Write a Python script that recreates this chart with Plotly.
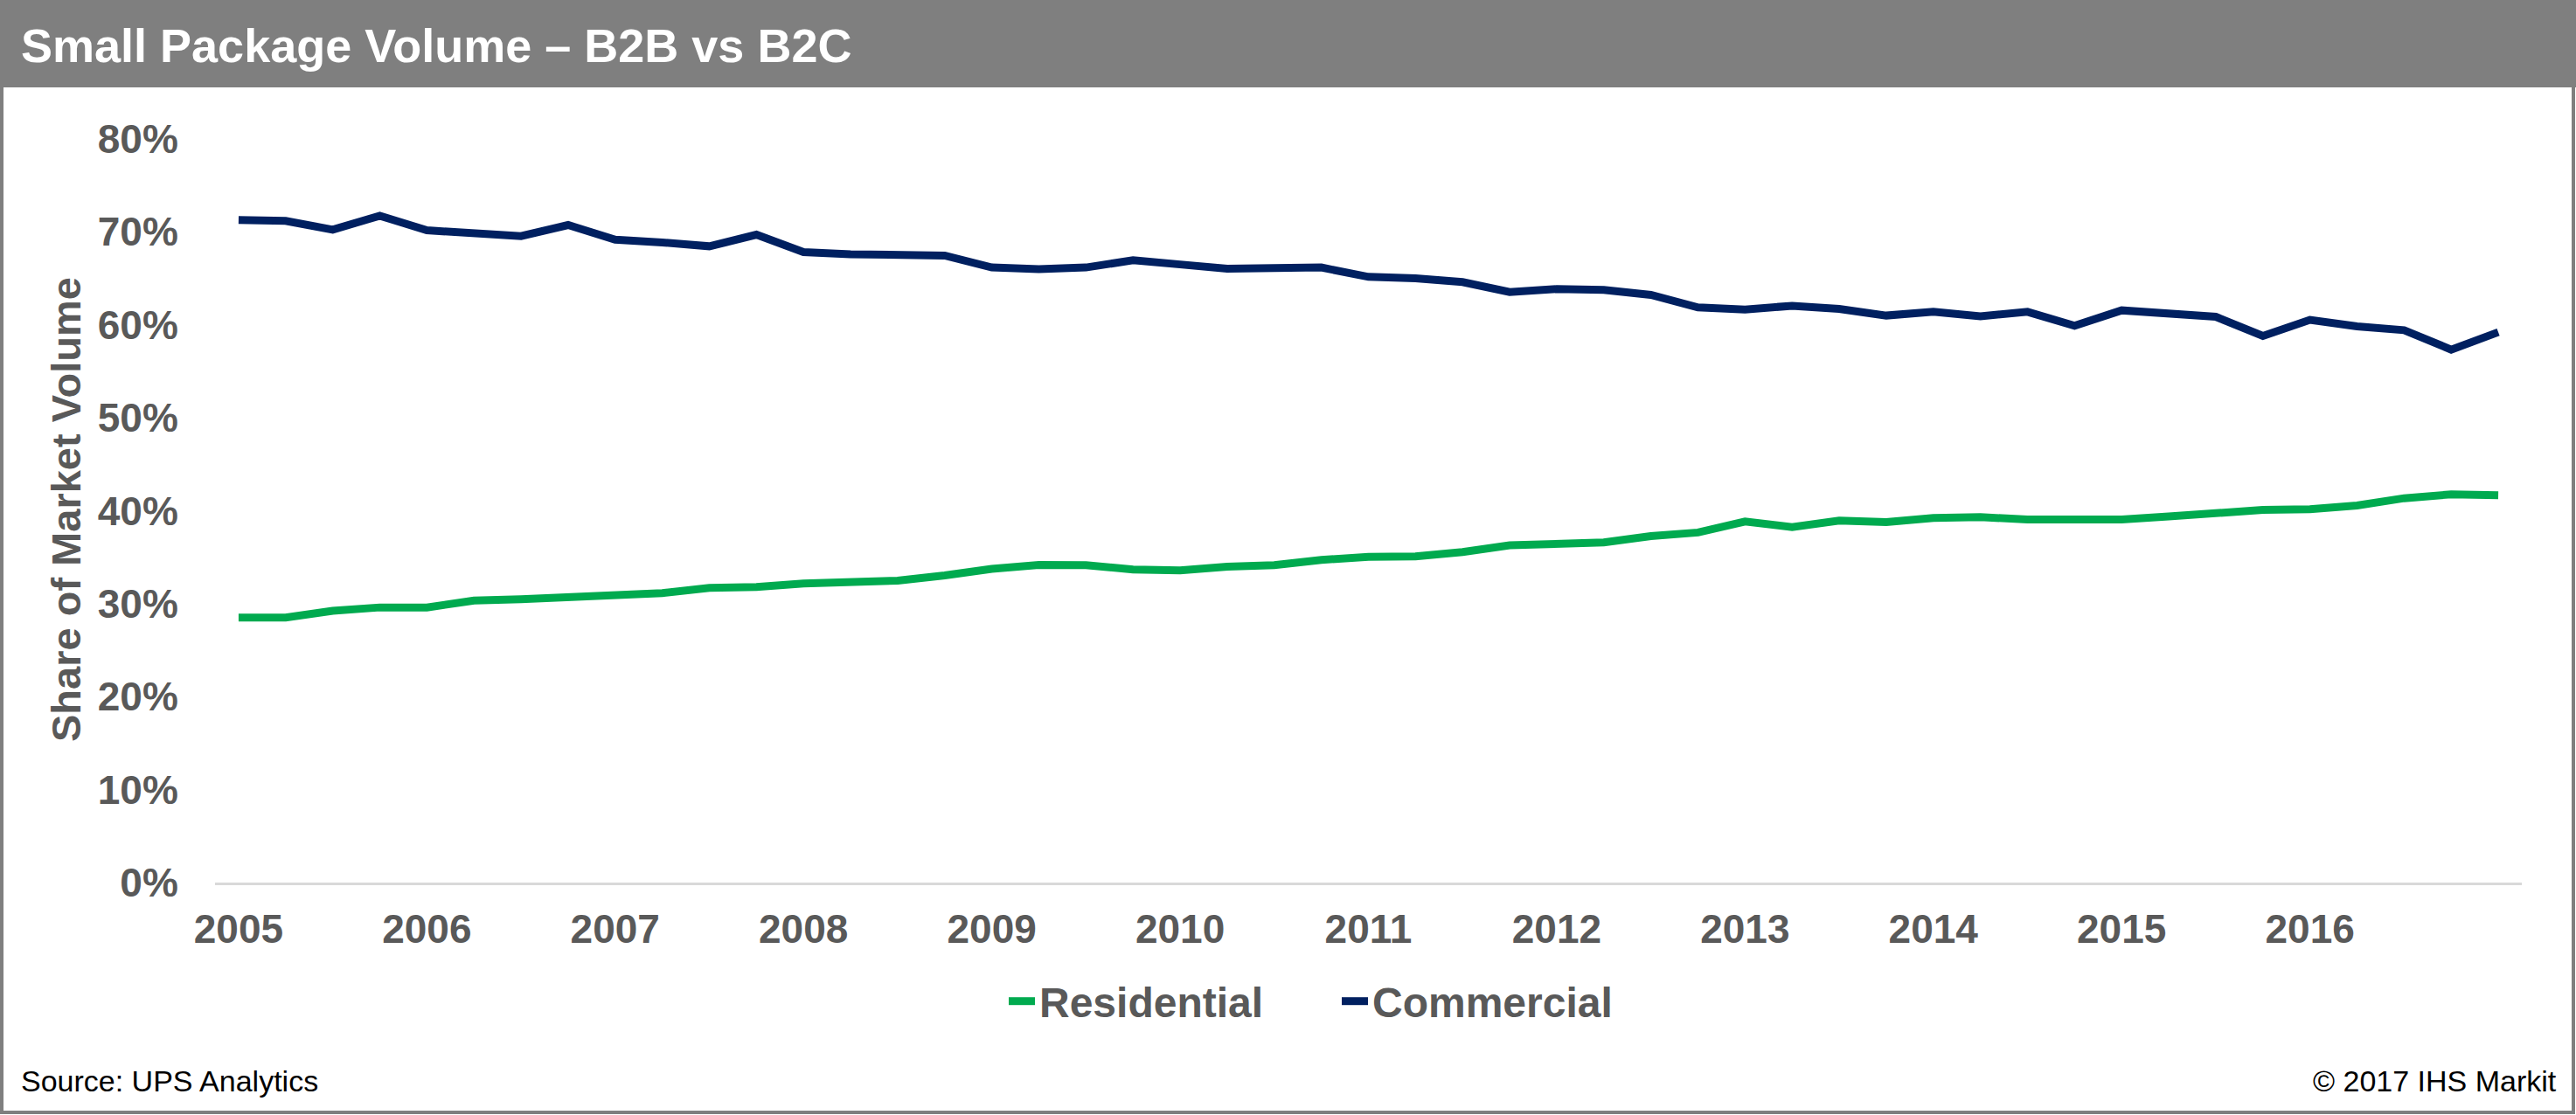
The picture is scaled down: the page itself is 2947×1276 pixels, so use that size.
import plotly.graph_objects as go

# Quarterly periods, 2005 Q1 through 2017 Q1
quarters = [f"{y} Q{q}" for y in range(2005, 2018) for q in range(1, 5)][:49]
year_labels = [str(y) for y in range(2005, 2017)]
year_ticks = [f"{y} Q1" for y in year_labels]

# Share of market volume (%)
residential = [28.51, 28.51, 29.23, 29.60, 29.60, 30.33, 30.48, 30.64, 30.86, 31.14,
               31.70, 31.80, 32.17, 32.33, 32.49, 33.05, 33.75, 34.18, 34.15, 33.68,
               33.58, 33.99, 34.15, 34.71, 35.03, 35.09, 35.56, 36.28, 36.34, 36.59,
               37.28, 37.66, 38.84, 38.25, 38.94, 38.78, 39.22, 39.31, 39.06, 39.16,
               39.06, 39.38, 39.78, 40.10, 40.16, 40.57, 41.35, 41.76, 41.67]
commercial = [71.27, 71.18, 70.24, 71.74, 70.17, 69.86, 69.55, 70.74, 69.17, 68.86,
              68.45, 69.70, 67.83, 67.60, 67.45, 67.45, 66.17, 66.00, 66.17, 66.95,
              66.50, 66.04, 66.10, 66.17, 65.16, 65.00, 64.60, 63.53, 63.85, 63.75,
              63.22, 61.87, 61.65, 62.05, 61.72, 61.00, 61.40, 60.93, 61.40, 59.90,
              61.56, 61.25, 60.87, 58.80, 60.53, 59.84, 59.43, 57.33, 59.21]

W, H = 2947, 1276
PLOT_L, PLOT_R, PLOT_T, PLOT_B = 246, 2885, 159, 1010
FONT = "Liberation Sans, Arial, sans-serif"
GREY_TXT = "#595959"
FRAME = "#7F7F7F"


def px_x(x):
    return (x - PLOT_L) / (PLOT_R - PLOT_L)


def px_y(y):
    return (PLOT_B - y) / (PLOT_B - PLOT_T)


fig = go.Figure()
fig.add_trace(go.Scatter(x=quarters, y=residential, name="Residential", mode="lines",
                         line=dict(color="#00AA4F", width=9)))
fig.add_trace(go.Scatter(x=quarters, y=commercial, name="Commercial", mode="lines",
                         line=dict(color="#002060", width=9)))

fig.update_layout(
    width=W, height=H,
    margin=dict(l=PLOT_L, r=W - PLOT_R, t=PLOT_T, b=H - PLOT_B, autoexpand=False),
    paper_bgcolor="white", plot_bgcolor="white",
    font=dict(family=FONT, color=GREY_TXT),
    showlegend=True,
    legend=dict(orientation="h", x=px_x(1149), y=px_y(1146), xanchor="left", yanchor="middle",
                entrywidth=336, entrywidthmode="pixels",
                font=dict(size=48, weight="bold", color=GREY_TXT), bgcolor="rgba(0,0,0,0)"),
    xaxis=dict(type="category", categoryorder="array", categoryarray=quarters,
               range=[-0.5, len(quarters) - 0.5],
               tickmode="array", tickvals=year_ticks, ticktext=year_labels,
               showgrid=False, zeroline=False,
               showline=True, linecolor="#D9D9D9", linewidth=3,
               ticks="outside", ticklen=11, tickcolor="rgba(0,0,0,0)",
               tickfont=dict(size=46, weight="bold", color=GREY_TXT)),
    yaxis=dict(range=[0, 80], tickmode="linear", tick0=0, dtick=10, ticksuffix="%",
               showgrid=False, zeroline=False, showline=False,
               ticks="outside", ticklen=32, tickcolor="rgba(0,0,0,0)",
               tickfont=dict(size=46, weight="bold", color=GREY_TXT)),
    shapes=[
        dict(type="rect", xref="paper", yref="paper", layer="below",
             x0=px_x(0), x1=px_x(W), y0=px_y(100), y1=px_y(0),
             fillcolor=FRAME, line=dict(width=0)),
        dict(type="rect", xref="paper", yref="paper", layer="above",
             x0=px_x(2), x1=px_x(W - 3), y0=px_y(H - 3), y1=px_y(2),
             fillcolor="rgba(0,0,0,0)", line=dict(color=FRAME, width=4)),
    ],
    annotations=[
        dict(text="Small Package Volume – B2B vs B2C", xref="paper", yref="paper",
             x=px_x(22), y=px_y(52), xanchor="left", yanchor="middle", showarrow=False,
             font=dict(family=FONT, size=54, color="white", weight="bold")),
        dict(text="Share of Market Volume", xref="paper", yref="paper",
             x=px_x(75), y=px_y(583), xanchor="center", yanchor="middle", showarrow=False,
             textangle=-90, font=dict(family=FONT, size=47, color=GREY_TXT, weight="bold")),
        dict(text="Source: UPS Analytics", xref="paper", yref="paper",
             x=px_x(22), y=px_y(1237), xanchor="left", yanchor="middle", showarrow=False,
             font=dict(family=FONT, size=34, color="black")),
        dict(text="© 2017 IHS Markit", xref="paper", yref="paper",
             x=px_x(2927), y=px_y(1237), xanchor="right", yanchor="middle", showarrow=False,
             font=dict(family=FONT, size=34, color="black")),
    ],
)

fig.write_html("out.html")
